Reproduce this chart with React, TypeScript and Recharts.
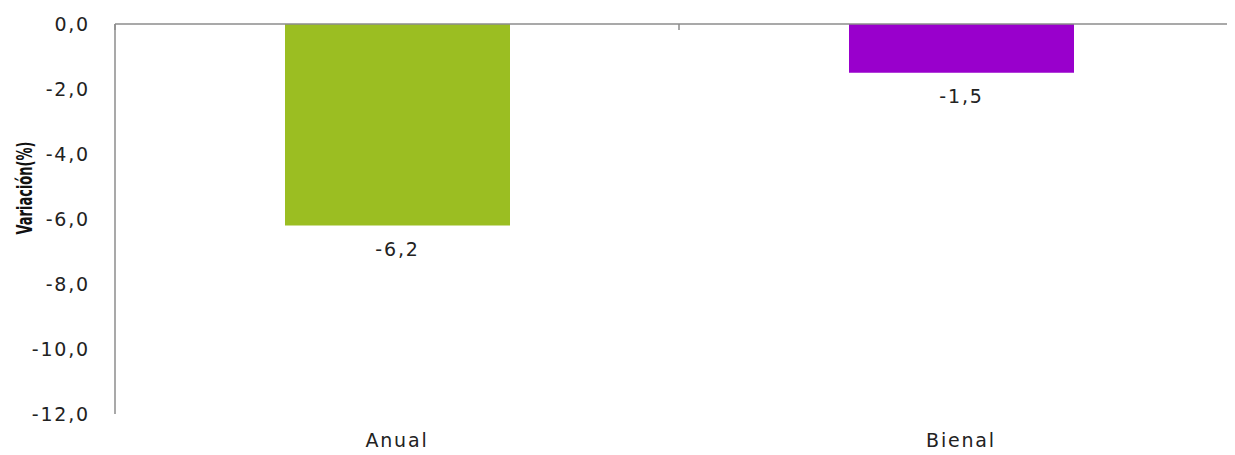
import React from "react";
import { BarChart, Bar, XAxis, YAxis, Cell, LabelList } from "recharts";

const categories = ["Anual", "Bienal"];
const values = [-6.2, -1.5];
const barColors = ["#9BBE22", "#9900CC"];
const yTicks = [0, -2, -4, -6, -8, -10, -12];
const boundaryTicks = [0, 1, 2];

const data = categories.map((name, i) => ({ name, value: values[i], pos: i + 0.5 }));

const FONT = "'DejaVu Sans', Verdana, sans-serif";
const FS = 19;
const LS = 1.8;
const fmt = (v: number) => v.toFixed(1).replace(".", ",");

const ValueLabel = (props: any) => {
  const { x, y, width, height, value } = props;
  const bottom = Math.max(y, y + height);
  return (
    <text
      x={x + width / 2}
      y={bottom + 23}
      textAnchor="middle"
      dominantBaseline="central"
      fontFamily={FONT}
      fontSize={FS}
      letterSpacing={LS}
      fill="#222"
    >
      {fmt(value)}
    </text>
  );
};

const YLabel = () => (
  <text
    x={17}
    y={180}
    transform="rotate(-90 17 180)"
    textAnchor="middle"
    dominantBaseline="central"
    fontFamily="'Liberation Sans Narrow', 'DejaVu Sans Condensed', sans-serif"
    fontWeight="bold"
    fontSize={21}
    textLength={93}
    lengthAdjust="spacingAndGlyphs"
    fill="#111"
  >
    Variación(%)
  </text>
);

export default function App() {
  return (
    <div style={{ width: 1227, height: 447, overflow: "hidden" }}>
      <BarChart
        width={1250}
        height={447}
        data={data}
        margin={{ top: 16, right: 15, bottom: 0, left: 0 }}
        barCategoryGap="20%"
      >
        <XAxis
          xAxisId="cat"
          dataKey="name"
          orientation="bottom"
          axisLine={false}
          tickLine={false}
          tickSize={0}
          tickMargin={20}
          height={41}
          tick={{ fontFamily: FONT, fontSize: FS, fill: "#222", letterSpacing: LS }}
        />
        <XAxis
          xAxisId="top"
          dataKey="pos"
          type="number"
          orientation="top"
          domain={[0, 2]}
          ticks={boundaryTicks}
          allowDataOverflow
          height={1}
          mirror
          tickSize={6}
          axisLine={{ stroke: "#8c8c8c", strokeWidth: 1.5 }}
          tickLine={{ stroke: "#8c8c8c", strokeWidth: 1.5 }}
          tick={() => <g />}
        />
        <YAxis
          domain={[-12, 0]}
          ticks={yTicks}
          interval={0}
          width={107}
          tickSize={0}
          tickMargin={25}
          tickLine={false}
          axisLine={{ stroke: "#8c8c8c", strokeWidth: 1.5 }}
          tickFormatter={fmt}
          tick={{ fontFamily: FONT, fontSize: FS, fill: "#222", letterSpacing: LS }}
          label={<YLabel />}
        />
        <Bar dataKey="value" xAxisId="cat" isAnimationActive={false} barSize={225}>
          {data.map((d, i) => (
            <Cell key={d.name} fill={barColors[i]} />
          ))}
          <LabelList dataKey="value" content={<ValueLabel />} />
        </Bar>
      </BarChart>
    </div>
  );
}
